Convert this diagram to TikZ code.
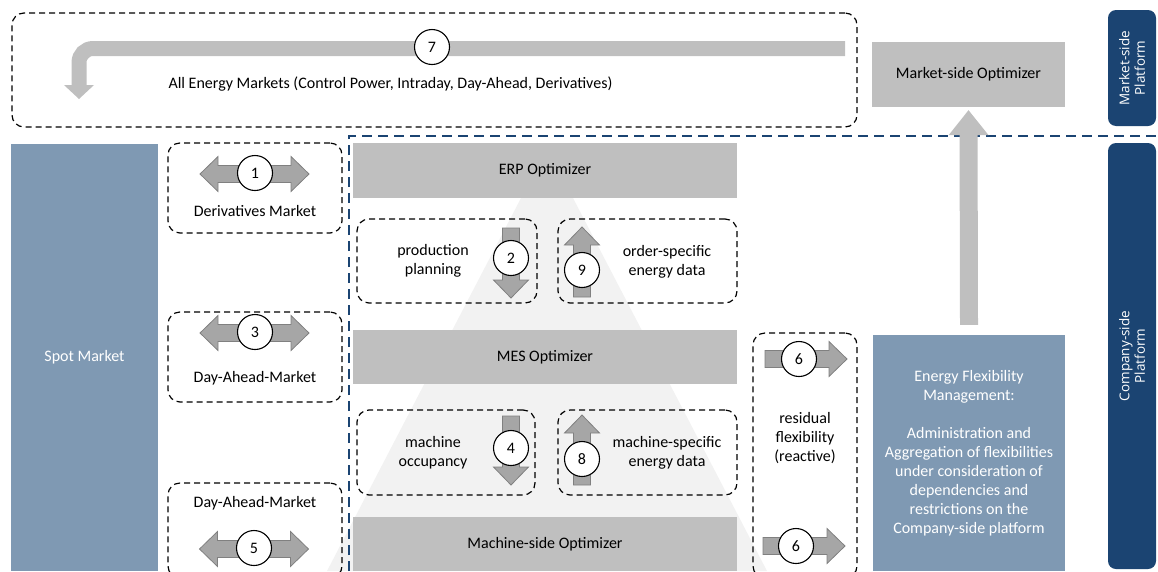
\documentclass[tikz,border=0pt]{standalone}
\usepackage{fontspec}
\setmainfont{Carlito}
\newfontfamily\platformfont{Open Sans}
\usetikzlibrary{arrows.meta}

\definecolor{spotblue}{RGB}{127,153,179}
\definecolor{platblue}{RGB}{27,68,114}
\definecolor{optgray}{RGB}{191,191,191}
\definecolor{pyramidgray}{RGB}{242,242,242}
\definecolor{arrowfill}{RGB}{166,166,166}
\definecolor{arrowedge}{RGB}{128,128,128}

\tikzset{
    optbox/.style={fill=optgray, minimum width=384pt, minimum height=54pt, inner sep=0pt},
    dashbox/.style={draw, dash pattern=on 6pt off 4pt, line width=1.2pt, rounded corners=12pt, inner sep=0pt},
    stepnum/.style={circle, draw, fill=white, line width=1.1pt, minimum size=35pt, inner sep=0pt},
    platbox/.style={fill=platblue, rounded corners=8pt, text=white, rotate=90, align=center, inner sep=0pt,
        font=\platformfont\fontsize{13.5}{15.5}\selectfont},
    bluebox/.style={fill=spotblue, text=white, align=center, inner sep=0pt},
    blockarrow/.style={draw=arrowedge, fill=arrowfill, line width=0.8pt},
    bigarrow/.style={draw=optgray},
    pics/sarrow/.style={code={
        \draw[blockarrow] ({-#1/2},-8.5) -- ({#1/2-18},-8.5) -- ({#1/2-18},-17.5) -- ({#1/2},0)
            -- ({#1/2-18},17.5) -- ({#1/2-18},8.5) -- ({-#1/2},8.5) -- cycle;}},
    pics/darrow/.style={code={
        \draw[blockarrow] ({-#1/2},0) -- ({-#1/2+18},-17.5) -- ({-#1/2+18},-8.5) -- ({#1/2-18},-8.5)
            -- ({#1/2-18},-17.5) -- ({#1/2},0) -- ({#1/2-18},17.5) -- ({#1/2-18},8.5)
            -- ({-#1/2+18},8.5) -- ({-#1/2+18},17.5) -- cycle;}}
}

\begin{document}
\begin{tikzpicture}[x=1pt, y=-1pt, font=\fontsize{16}{19}\selectfont]
    \clip (0,0) rectangle (1158,571);
    % pyramid behind the optimizers
    \fill[pyramidgray] (547,148) -- (767,571) -- (327,571) -- cycle;

    % platforms
    \node[platbox, minimum width=116pt, minimum height=48pt] (mplat) at (1132,68) {Market-side\\Platform};
    \node[platbox, minimum width=426pt, minimum height=48pt] (cplat) at (1132,356) {Company-side\\Platform};
    \draw[platblue, line width=2.2pt, dash pattern=on 10pt off 6pt] (349,571) -- (349,136) -- (1158,136);

    % market side
    \node[dashbox, minimum width=845pt, minimum height=114pt] (allbox) at (434.5,70) {};
    \draw[bigarrow, line width=15pt, rounded corners=14pt,
        -{Triangle[width=30pt, length=14pt, line width=0pt]}] (845,48.5) -- (79,48.5) -- (79,99);
    \node[stepnum] (n7) at (432,47) {7};
    \node[anchor=west] (alltxt) at (165,84) {All Energy Markets (Control Power, Intraday, Day-Ahead, Derivatives)};
    \node[fill=optgray, minimum width=193pt, minimum height=65pt, inner sep=0pt] (mso) at (968.5,74.5) {Market-side Optimizer};

    % spot market
    \node[bluebox, minimum width=147pt, minimum height=427pt] (spot) at (84.5,357.5) {Spot Market};
    \node[dashbox, minimum width=174pt, minimum height=90pt] (derivbox) at (255,188) {};
    \pic at (254.5,174) {darrow=109};
    \node[stepnum] (n1) at (255,173) {1};
    \node (derivtxt) at (255,211) {Derivatives Market};
    \node[dashbox, minimum width=174pt, minimum height=90pt] (dabox) at (255,357) {};
    \pic at (254.5,333) {darrow=109};
    \node[stepnum] (n3) at (255,332) {3};
    \node (datxt) at (255,378) {Day-Ahead-Market};
    \node[dashbox, minimum width=174pt, minimum height=95pt] (dabbox) at (255,530.5) {};
    \node (dabtxt) at (255,503) {Day-Ahead-Market};
    \pic at (254,549) {darrow=109};
    \node[stepnum] (n5) at (254,548) {5};

    % optimizers
    \node[optbox, minimum height=55pt] (erp) at (545,170.5) {ERP Optimizer};
    \node[optbox] (mes) at (545,357) {MES Optimizer};
    \node[optbox] (mso2) at (545,544) {Machine-side Optimizer};

    \node[dashbox, minimum width=180pt, minimum height=84pt] (prodbox) at (447,261) {};
    \node[align=center] (prodtxt) at (433,261) {production\\planning};
    \pic[rotate=-90] at (511,263) {sarrow=70};
    \node[stepnum] (n2) at (511,258) {2};
    \node[dashbox, minimum width=179pt, minimum height=84pt] (orderbox) at (647.5,261) {};
    \node[align=center] (ordertxt) at (667,262) {order-specific\\energy data};
    \pic[rotate=90] at (582,262) {sarrow=70};
    \node[stepnum] (n9) at (582,270) {9};

    \node[dashbox, minimum width=178pt, minimum height=85pt] (occbox) at (446,452.5) {};
    \node[align=center] (occtxt) at (433,453) {machine\\occupancy};
    \pic[rotate=-90] at (511,450.5) {sarrow=69};
    \node[stepnum] (n4) at (511,448) {4};
    \node[dashbox, minimum width=179pt, minimum height=85pt] (machbox) at (647.5,452.5) {};
    \node[align=center] (machtxt) at (667,453) {machine-specific\\energy data};
    \pic[rotate=90] at (582,450) {sarrow=70};
    \node[stepnum] (n8) at (582,459) {8};

    % residual flexibility
    \node[dashbox, minimum width=104pt, minimum height=245pt] (residbox) at (805,455.5) {};
    \pic at (806,359) {sarrow=82};
    \node[stepnum] (n6a) at (799,359) {6};
    \node[align=center] (residtxt) at (805,438) {residual\\flexibility\\(reactive)};
    \pic at (804,546) {sarrow=82};
    \node[stepnum] (n6b) at (796,546) {6};

    % flexibility management
    \node[bluebox, minimum width=192pt, minimum height=236pt] (efm) at (969,453)
        {Energy Flexibility\\Management:\\[19pt]Administration and\\Aggregation of flexibilities\\under consideration of\\dependencies and\\restrictions on the\\Company-side platform};
    \draw[bigarrow, line width=18pt, -{Triangle[width=40pt, length=25pt, line width=0pt]}]
        ([yshift=10pt]efm.north) -- ([yshift=-3pt]mso.south);
\end{tikzpicture}
\end{document}
